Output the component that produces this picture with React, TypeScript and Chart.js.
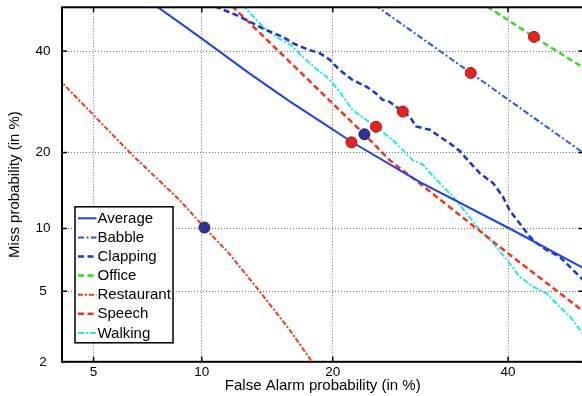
import { useEffect, useRef } from 'react';
import { Chart, registerables } from 'chart.js';

Chart.register(...registerables);

// ---- axis definition (percent values, probit / normal-deviate scale) ----
const xTickPcts = [5, 10, 20, 40];
const yTickPcts = [2, 5, 10, 20, 40];
const xRangePct = [4, 50];
const yRangePct = [2, 50];

// ---- series (False alarm %, Miss %) ----
const averageFA = [7.4, 9.97, 13.1, 16.2, 19.1, 21.8, 29.1, 40.2, 50.5];
const averageMiss = [50.9, 42.9, 35.1, 29.3, 25.1, 21.8, 15.6, 10.0, 6.4];

const babbleFA = [24.2, 35.25, 50.5];
const babbleMiss = [50.5, 35.2, 19.5];

const clappingFA = [10.8, 12.2, 13.1, 14.3, 15.65, 16.5, 17.9, 18.8, 19.7, 20.65, 21.9, 23.3, 24.3, 25.0, 25.75, 27.2, 28.0, 28.7, 30.3, 31.45, 32.7, 33.9, 35.1, 36.4, 38.1, 39.35, 40.2, 41.5, 42.85, 43.5, 45.05, 46.8, 47.7, 48.6, 50.5];
const clappingMiss = [50.2, 48.2, 46.7, 44.8, 43.2, 41.7, 40.2, 39.5, 38.1, 35.8, 33.7, 32.3, 30.9, 29.6, 29.2, 27.3, 26.3, 24.5, 23.9, 22.7, 21.5, 20.25, 18.5, 16.8, 15.4, 13.6, 12.0, 10.55, 9.2, 8.72, 8.0, 7.43, 6.9, 6.4, 5.45];

const officeFA = [37.3, 43.4, 50.5];
const officeMiss = [50.2, 43.2, 35.8];

const restaurantFA = [3.9, 6.39, 8.76, 10.16, 11.7, 13.84, 16.2, 18.0, 18.3];
const restaurantMiss = [33.9, 20.0, 13.2, 10.1, 7.7, 5.0, 3.08, 2.05, 1.94];

const speechFA = [11.9, 16.2, 23.1, 25.75, 29.1, 40.0, 50.5];
const speechMiss = [50.3, 37.6, 23.1, 18.8, 15.4, 7.7, 3.77];

const walkingFA = [12.6, 14.1, 15.1, 16.2, 17.3, 18.5, 19.4, 20.0, 21.0, 21.9, 23.3, 24.3, 26.1, 27.2, 28.3, 29.5, 31.1, 33.1, 34.7, 36.4, 38.5, 40.2, 41.5, 43.3, 45.05, 46.8, 48.2, 50.5];
const walkingMiss = [50.6, 45.5, 43.2, 41.5, 38.7, 36.0, 34.4, 33.0, 30.2, 27.6, 25.7, 24.45, 22.1, 20.4, 18.8, 18.1, 15.85, 13.6, 11.65, 9.85, 8.27, 6.9, 5.93, 5.28, 4.88, 4.14, 3.66, 2.7];

// operating-point markers
const redMarkerFA = [21.8, 24.3, 27.2, 35.25, 43.4];
const redMarkerMiss = [21.7, 24.45, 27.3, 35.2, 43.2];
const navyMarkerFA = [23.1, 10.16];
const navyMarkerMiss = [23.1, 10.1];

// inverse normal CDF (Acklam)
function probit(p: number): number {
  const a = [-3.969683028665376e1, 2.209460984245205e2, -2.759285104469687e2, 1.38357751867269e2, -3.066479806614716e1, 2.506628277459239];
  const b = [-5.447609879822406e1, 1.615858368580409e2, -1.556989798598866e2, 6.680131188771972e1, -1.328068155288572e1];
  const c = [-7.784894002430293e-3, -3.223964580411365e-1, -2.400758277161838, -2.549732539343734, 4.374664141464968, 2.938163982698783];
  const d = [7.784695709041462e-3, 3.224671290700398e-1, 2.445134137142996, 3.754408661907416];
  const plow = 0.02425;
  const phigh = 1 - plow;
  if (p < plow) {
    const q = Math.sqrt(-2 * Math.log(p));
    return (((((c[0] * q + c[1]) * q + c[2]) * q + c[3]) * q + c[4]) * q + c[5]) / ((((d[0] * q + d[1]) * q + d[2]) * q + d[3]) * q + 1);
  }
  if (p <= phigh) {
    const q = p - 0.5;
    const r = q * q;
    return ((((((a[0] * r + a[1]) * r + a[2]) * r + a[3]) * r + a[4]) * r + a[5]) * q) / (((((b[0] * r + b[1]) * r + b[2]) * r + b[3]) * r + b[4]) * r + 1);
  }
  const q = Math.sqrt(-2 * Math.log(1 - p));
  return -(((((c[0] * q + c[1]) * q + c[2]) * q + c[3]) * q + c[4]) * q + c[5]) / ((((d[0] * q + d[1]) * q + d[2]) * q + d[3]) * q + 1);
}

const toPts = (fa: number[], miss: number[]) => fa.map((f, i) => ({ x: probit(f / 100), y: probit(miss[i] / 100) }));

const FONT = '"Liberation Sans", Arial, Helvetica, sans-serif';

const framePlugin = {
  id: 'frameAndLegend',
  afterDraw(chart: any) {
    const { ctx, chartArea: a, scales } = chart;
    ctx.save();
    // inward ticks
    ctx.strokeStyle = '#000';
    ctx.lineWidth = 1.5;
    const seg = (x1: number, y1: number, x2: number, y2: number) => {
      ctx.beginPath();
      ctx.moveTo(x1, y1);
      ctx.lineTo(x2, y2);
      ctx.stroke();
    };
    scales.x.ticks.forEach((t: any) => {
      const px = scales.x.getPixelForValue(t.value);
      seg(px, a.bottom, px, a.bottom - 5);
      seg(px, a.top, px, a.top + 5);
    });
    scales.y.ticks.forEach((t: any) => {
      const py = scales.y.getPixelForValue(t.value);
      seg(a.left, py, a.left + 5, py);
      seg(a.right, py, a.right - 5, py);
    });
    // frame
    ctx.lineWidth = 2;
    ctx.strokeRect(a.left, a.top, a.right - a.left, a.bottom - a.top);

    // legend inset
    const items = chart.data.datasets.filter((d: any) => !d.isMarker);
    const boxL = a.left + 13;
    const boxT = a.bottom - 155;
    const boxW = 98;
    const boxH = 136;
    ctx.fillStyle = '#fff';
    ctx.fillRect(boxL, boxT, boxW, boxH);
    ctx.lineWidth = 1.5;
    ctx.strokeStyle = '#000';
    ctx.strokeRect(boxL, boxT, boxW, boxH);
    ctx.font = `15px ${FONT}`;
    ctx.textBaseline = 'middle';
    ctx.textAlign = 'left';
    items.forEach((d: any, i: number) => {
      const y = boxT + 11.5 + i * 19.1;
      ctx.save();
      ctx.strokeStyle = d.borderColor;
      ctx.lineWidth = d.borderWidth;
      ctx.setLineDash(d.borderDash || []);
      ctx.beginPath();
      ctx.moveTo(boxL + 3, y);
      ctx.lineTo(boxL + 21.5, y);
      ctx.stroke();
      ctx.restore();
      ctx.fillStyle = '#000';
      ctx.fillText(d.label, boxL + 22.5, y + 0.5);
    });
    ctx.restore();
  },
};

export default function App() {
  const ref = useRef<HTMLCanvasElement | null>(null);

  useEffect(() => {
    if (!ref.current) return;
    const line = (label: string, fa: number[], miss: number[], color: string, width: number, dash: number[]) => ({
      label,
      data: toPts(fa, miss),
      borderColor: color,
      backgroundColor: color,
      borderWidth: width,
      borderDash: dash,
      showLine: true,
      pointRadius: 0,
      tension: 0,
      clip: 0,
    });
    const chart = new Chart(ref.current, {
      type: 'scatter',
      data: {
        datasets: [
          line('Average', averageFA, averageMiss, '#1f44e6', 2, []),
          line('Babble', babbleFA, babbleMiss, '#2a55ee', 2, [6, 2.5, 2, 2.5]),
          line('Clapping', clappingFA, clappingMiss, '#1a35d6', 2.5, [6, 3.5]),
          line('Office', officeFA, officeMiss, '#33dd1a', 2.5, [6, 3.5]),
          line('Restaurant', restaurantFA, restaurantMiss, '#f03a1e', 2, [5, 2, 2, 2]),
          line('Speech', speechFA, speechMiss, '#f2361c', 2.5, [6, 3.5]),
          line('Walking', walkingFA, walkingMiss, '#2ae6e6', 2, [6, 2, 2, 2]),
          {
            label: 'red markers',
            isMarker: true,
            data: toPts(redMarkerFA, redMarkerMiss),
            pointRadius: 5.5,
            pointBackgroundColor: '#e82222',
            pointBorderColor: '#a81414',
            pointBorderWidth: 1,
            showLine: false,
            order: -1,
          } as any,
          {
            label: 'navy markers',
            isMarker: true,
            data: toPts(navyMarkerFA, navyMarkerMiss),
            pointRadius: 5.5,
            pointBackgroundColor: '#2e3592',
            pointBorderColor: '#1c2070',
            pointBorderWidth: 1,
            showLine: false,
            order: -1,
          } as any,
        ],
      },
      options: {
        responsive: false,
        animation: false,
        devicePixelRatio: 1,
        layout: { padding: { left: 0, right: 6.3, top: 7.3, bottom: 0 } },
        plugins: { legend: { display: false }, tooltip: { enabled: false } },
        scales: {
          x: {
            type: 'linear',
            bounds: 'data',
            min: probit(xRangePct[0] / 100),
            max: probit(xRangePct[1] / 100),
            afterBuildTicks: (s: any) => {
              s.ticks = xTickPcts.map((p) => ({ value: probit(p / 100) }));
            },
            afterFit: (s: any) => {
              s.height = 34.2;
              s.paddingLeft = 0;
              s.paddingRight = 0;
            },
            ticks: {
              callback: (_v: any, i: number) => String(xTickPcts[i]),
              font: { family: FONT, size: 13.5 },
              color: '#000',
              padding: 2,
              maxRotation: 0,
              autoSkip: false,
            },
            grid: { color: 'rgba(0,0,0,0.55)', lineWidth: 1, drawTicks: false },
            border: { display: false, dash: [1, 2] },
            title: {
              display: true,
              text: 'False Alarm probability (in %)',
              font: { family: FONT, size: 15 },
              color: '#000',
              padding: { top: 0, bottom: 1.5 },
            },
          },
          y: {
            type: 'linear',
            bounds: 'data',
            min: probit(yRangePct[0] / 100),
            max: probit(yRangePct[1] / 100),
            afterBuildTicks: (s: any) => {
              s.ticks = yTickPcts.map((p) => ({ value: probit(p / 100) }));
            },
            afterFit: (s: any) => {
              s.width = 62;
              s.paddingTop = 0;
              s.paddingBottom = 0;
            },
            ticks: {
              callback: (_v: any, i: number) => String(yTickPcts[i]),
              font: { family: FONT, size: 13.5 },
              color: '#000',
              padding: 11.5,
              crossAlign: 'center',
              autoSkip: false,
            },
            grid: { color: 'rgba(0,0,0,0.55)', lineWidth: 1, drawTicks: false },
            border: { display: false, dash: [1, 2] },
            title: {
              display: true,
              text: 'Miss probability (in %)',
              font: { family: FONT, size: 15 },
              color: '#000',
              padding: { top: 6, bottom: 0 },
            },
          },
        },
      } as any,
      plugins: [framePlugin],
    });
    return () => chart.destroy();
  }, []);

  return (
    <div style={{ position: 'fixed', left: 0, top: 0, width: 582, height: 396, overflow: 'hidden', background: '#fff' }}>
      <canvas ref={ref} width={590} height={396} style={{ display: 'block', width: 590, height: 396 }} />
    </div>
  );
}
